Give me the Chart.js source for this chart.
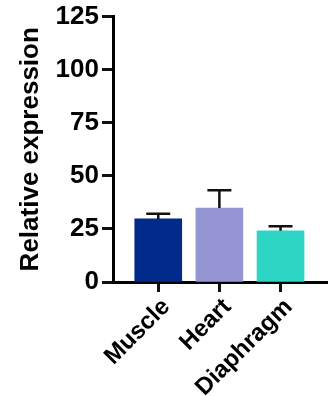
<!DOCTYPE html>
<html>
<head>
<meta charset="utf-8">
<title>Relative expression</title>
<script src="https://cdn.jsdelivr.net/npm/chart.js@4/dist/chart.umd.min.js"></script>
<style>
    html, body { margin: 0; padding: 0; background: #fff; }
    #chart { display: block; }
</style>
</head>
<body>
<canvas id="chart" width="329" height="396"></canvas>
<script>
// data
const tissues = ['Muscle', 'Heart', 'Diaphragm'];
const meanExpr = [29.7, 34.8, 24.1];
const sdExpr = [2.4, 8.4, 2.2];
const barColors = ['#002b8b', '#9595d4', '#2dd5c4'];
const yTicks = [0, 25, 50, 75, 100, 125];

const FONT = "'Liberation Sans', Arial, sans-serif";

// bars sit on a linear x axis so the axis line can run past the outer bars
const barData = tissues.map((_, i) => ({ x: i, y: meanExpr[i] }));

// upward-only error bars (mean + SD), drawn through the y scale
const errorBars = {
    id: 'errorBars',
    afterDatasetsDraw(chart) {
        const ctx = chart.ctx;
        const y = chart.scales.y;
        const meta = chart.getDatasetMeta(0);
        ctx.save();
        ctx.strokeStyle = '#111';
        ctx.lineWidth = 2.5;
        meta.data.forEach((bar, i) => {
            const top = y.getPixelForValue(meanExpr[i] + sdExpr[i]);
            const base = y.getPixelForValue(meanExpr[i]);
            ctx.beginPath();
            ctx.moveTo(bar.x, base);
            ctx.lineTo(bar.x, top);
            ctx.moveTo(bar.x - 12, top);
            ctx.lineTo(bar.x + 12, top);
            ctx.stroke();
        });
        ctx.restore();
    }
};

new Chart(document.getElementById('chart'), {
    type: 'bar',
    data: {
        datasets: [{
            data: barData,
            backgroundColor: barColors,
            borderWidth: 0,
            barThickness: 47
        }]
    },
    options: {
        responsive: false,
        animation: false,
        layout: { padding: { left: 2, right: 2, top: 13, bottom: 0 } },
        plugins: {
            legend: { display: false },
            tooltip: { enabled: false }
        },
        scales: {
            x: {
                type: 'linear',
                offset: false,
                min: -0.74,
                max: 2.76,
                afterFit: scale => { scale.height = 114; },
                afterBuildTicks: scale => {
                    scale.ticks = tissues.map((_, i) => ({ value: i }));
                },
                border: { display: true, color: '#000', width: 3 },
                grid: {
                    offset: false,
                    drawOnChartArea: false,
                    drawTicks: true,
                    tickLength: 10,
                    tickWidth: 3,
                    tickColor: '#111'
                },
                ticks: {
                    autoSkip: false,
                    minRotation: 45,
                    maxRotation: 45,
                    padding: 1,
                    labelOffset: 8,
                    color: '#000',
                    font: { family: FONT, size: 24, weight: 'bold' },
                    callback: v => tissues[v] ?? ''
                }
            },
            y: {
                min: 0,
                max: 125,
                afterFit: scale => { scale.width = 111; },
                afterBuildTicks: scale => {
                    scale.ticks = yTicks.map(v => ({ value: v }));
                },
                border: { display: true, color: '#000', width: 3 },
                grid: {
                    drawOnChartArea: false,
                    drawTicks: true,
                    tickLength: 11,
                    tickWidth: 3,
                    tickColor: '#111'
                },
                ticks: {
                    padding: 3,
                    color: '#000',
                    font: { family: FONT, size: 26, weight: 'bold', lineHeight: 1.04 }
                },
                title: {
                    display: true,
                    text: 'Relative expression',
                    color: '#000',
                    padding: { top: 13, bottom: 0 },
                    font: { family: FONT, size: 26, weight: 'bold' }
                }
            }
        }
    },
    plugins: [errorBars]
});
</script>
</body>
</html>
